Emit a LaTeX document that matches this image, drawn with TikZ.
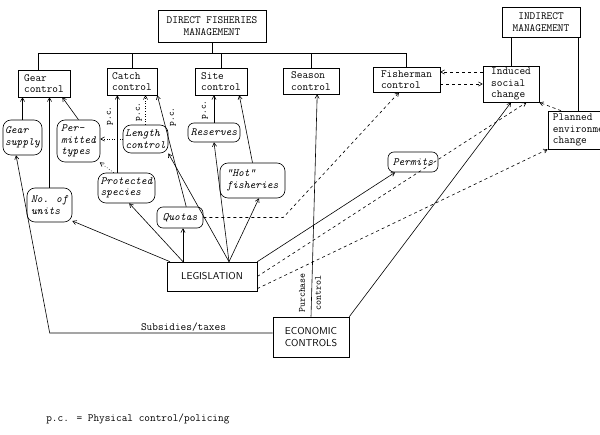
\documentclass[tikz,border=0pt]{standalone}
\usepackage{tikz}
\usetikzlibrary{shapes}
\usetikzlibrary{arrows}

\tikzset{
	box/.style={draw, align=left, font=\fontsize{11}{11.5}\selectfont\ttfamily, inner sep=2pt},
	blob/.style={draw, rounded corners=8pt, align=left, font=\fontsize{11}{11.5}\selectfont\ttfamily\itshape, inner sep=1.5pt},
	bigbox/.style={draw, align=center, font=\fontsize{10}{12}\selectfont\sffamily},
	pc/.style={rotate=90, font=\fontsize{9}{9}\selectfont\ttfamily, inner sep=1pt},
	lbl/.style={font=\fontsize{11}{11}\selectfont\ttfamily, inner sep=1pt}
}

\begin{document}
\begin{tikzpicture}[x=1pt, y=-1pt, line width=0.6pt, >=angle 60]
		\useasboundingbox (0,0) rectangle (600,435);
		\node[box, align=center, minimum width=108pt, minimum height=32pt] (dfm) at (212,26) {DIRECT FISHERIES\\MANAGEMENT};
		\node[box, minimum width=52pt, minimum height=27pt] (gear) at (44,83.5) {Gear\\control};
		\node[box, minimum width=50pt, minimum height=27pt] (catch) at (132,81.5) {Catch\\control};
		\node[box, minimum width=52pt, minimum height=27pt] (site) at (221,81.5) {Site\\control};
		\node[box, minimum width=56pt, minimum height=26pt] (season) at (311,81) {Season\\control};
		\node[box, minimum width=67pt, minimum height=25pt] (fisher) at (406.5,79.5) {Fisherman\\control};
		\node[box, align=center, minimum width=78pt, minimum height=30pt] (indirect) at (541,22) {INDIRECT\\MANAGEMENT};
		\node[box, minimum width=56pt, minimum height=36pt] (induced) at (511,84) {Induced\\social\\change};
		\node[box, minimum width=72pt, minimum height=38pt] (planned) at (584,130) {Planned\\environment\\change};
		\node[blob, minimum width=39pt, minimum height=35pt] (gsup) at (22.5,137.5) {Gear\\supply};
		\node[blob, minimum width=43pt, minimum height=42pt] (ptypes) at (78.5,141) {Per-\\mitted\\types};
		\node[blob, minimum width=45pt, minimum height=34pt] (units) at (49.5,205) {No. of\\units};
		\node[blob, minimum width=45pt, minimum height=28pt] (length) at (145.5,139) {Length\\control};
		\node[blob, minimum width=57pt, minimum height=30pt] (protected) at (126.5,188) {Protected\\species};
		\node[blob, rounded corners=6pt, minimum width=52pt, minimum height=19pt] (reserves) at (214,132.5) {Reserves};
		\node[blob, minimum width=65pt, minimum height=35pt] (hot) at (252.5,180.5) {"Hot"\\fisheries};
		\node[blob, rounded corners=6pt, minimum width=46pt, minimum height=21pt] (quotas) at (180,217.5) {Quotas};
		\node[blob, rounded corners=6pt, minimum width=50pt, minimum height=20pt] (permits) at (413,162) {Permits};
		\node[bigbox, minimum width=90pt, minimum height=29pt] (leg) at (212,276.5) {LEGISLATION};
		\node[bigbox, minimum width=76pt, minimum height=40pt] (econ) at (311,337) {ECONOMIC\\CONTROLS};

		\coordinate (bus) at (0,53);
		\draw (dfm.south) -- (dfm.south |- bus);
		\draw (gear.114) |- (bus -| fisher.north) -- (fisher.north);
		\foreach \n in {catch,site,season}
			\draw (\n.north) -- (\n.north |- bus);
		\draw (induced.north) -- (induced.north |- indirect.south);
		\draw (planned.107) -- (planned.107 |- indirect.south);

		\draw[dashed,->] (induced.west |- 0,72) -- (fisher.east |- 0,72);
		\draw[dashed,->] (fisher.east |- 0,84) -- (induced.west |- 0,84);
		\draw[dashed,->] (planned.140) -- (induced.south east);

		\draw[->] (gsup.north) -- (gsup.north |- gear.south);
		\draw[->] (units.north) -- (units.north |- gear.south);
		\draw[->] (ptypes.north) -- ([xshift=-8pt]gear.south east);
		\draw[dotted,->] (length.west) -- (length.west -| ptypes.east);
		\draw[dotted,->] (protected.130) -- (ptypes.-45);

		\draw[->] (protected.121) -- (protected.121 |- catch.south);
		\draw[dotted,->] (length.north) -- (length.north |- catch.south);
		\draw[->] (quotas.60) -- (catch.south east);
		\draw[->] (reserves.north) -- (reserves.north |- site.south);
		\draw[->] (hot.north) -- ([xshift=-8pt]site.south east);
		\node[pc] (pc1) at (110,116) {p.c.};
		\node[pc] (pc2) at (139,112) {p.c.};
		\node[pc] (pc3) at (173,117) {p.c.};
		\node[pc] (pc4) at (205,110) {p.c.};

		\coordinate (l1) at ([xshift=-42pt]leg.north);
		\coordinate (l2) at ([xshift=-29pt]leg.north);
		\coordinate (l3) at ([xshift=17pt]leg.north);
		\draw[->] (l1) -- (units.-35);
		\draw[->] (l2) -- (protected.-80);
		\draw[->] (l2) -- (l2 |- quotas.south);
		\draw[->] (l3) -- (length.south east);
		\draw[->] (l3) -- (reserves.south);
		\draw[->] (l3) -- (hot.-70);
		\draw[->] (leg.north east) -- (permits.-150);

		\draw[dashed,->] (quotas.east) -- ++(80,0) -- (fisher.-120);
		\draw[dashed,->] (leg.east) -- (induced.-50);
		\draw[dashed,->] (leg.-15) -- (planned.south west);

		\draw[->] (econ.north) -- (season.-65);
		\node[pc, font=\fontsize{9.5}{9.5}\selectfont\ttfamily] (purch) at (302,293) {Purchase};
		\node[pc, font=\fontsize{9.5}{9.5}\selectfont\ttfamily] (pctrl) at (318,293) {control};
		\draw[->] (econ.north east) -- (induced.south);
		\draw[->] (econ.174) -- ++(-223,0) node[lbl, pos=0.4, above] (subs) {Subsidies/taxes} -- (gsup.-110);

		\node[lbl, anchor=west] (note) at (45,419) {p.c. = Physical control/policing};
	\end{tikzpicture}
\end{document}
